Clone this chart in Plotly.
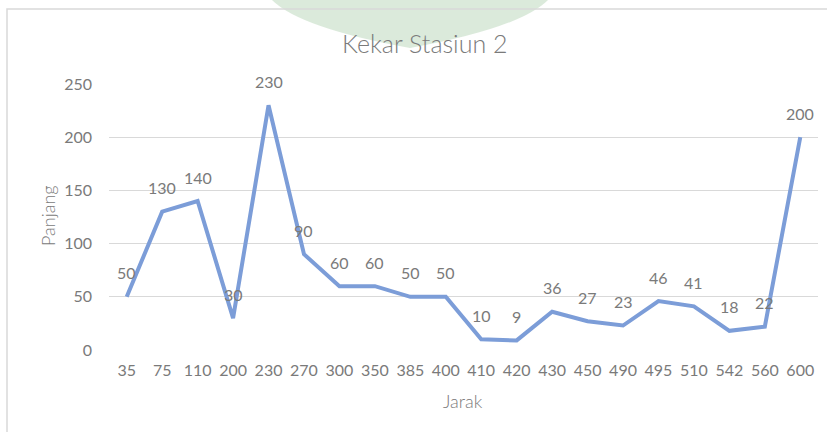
import plotly.graph_objects as go

# Kekar Stasiun 2: panjang kekar per jarak
jarak = ["35", "75", "110", "200", "230", "270", "300", "350", "385", "400",
         "410", "420", "430", "450", "490", "495", "510", "542", "560", "600"]
panjang = [50, 130, 140, 30, 230, 90, 60, 60, 50, 50,
           10, 9, 36, 27, 23, 46, 41, 18, 22, 200]
y_ticks = [0, 50, 100, 150, 200, 250]

W, H = 827, 432
L, R, T, B = 109, 9, 84, 82
PW, PH = W - L - R, H - T - B


def px(x):
    return (x - L) / PW


def py(y):
    return (H - B - y) / PH


LINE = "#7c9dd8"
GREY = "#7a7a7a"
FONT = "Lato, Carlito, 'Open Sans', sans-serif"

fig = go.Figure()
fig.add_trace(go.Scatter(
    x=jarak, y=panjang, mode="lines",
    line=dict(color=LINE, width=4),
    hoverinfo="x+y", showlegend=False,
))

# value labels, placed by category index
annotations = [
    dict(x=i, y=yv, xref="x", yref="y", text=str(yv), showarrow=False,
         xanchor="center", yanchor="middle", yshift=24,
         font=dict(size=16, color=GREY, family=FONT))
    for i, yv in enumerate(panjang)
]
annotations += [
    dict(x=px(424), y=py(43), xref="paper", yref="paper", text="Kekar Stasiun 2",
         xanchor="center", yanchor="middle", showarrow=False,
         font=dict(size=25, color=GREY, family=FONT, weight=300)),
    dict(x=px(48), y=py(215), xref="paper", yref="paper", text="Panjang",
         xanchor="center", yanchor="middle", textangle=-90, showarrow=False,
         font=dict(size=18, color=GREY, family=FONT, weight=300)),
    dict(x=px(463), y=py(401), xref="paper", yref="paper", text="Jarak",
         xanchor="center", yanchor="middle", showarrow=False,
         font=dict(size=18, color=GREY, family=FONT, weight=300)),
]

shapes = [
    # faint green emblem behind the page top
    dict(type="path", xref="paper", yref="paper", layer="below",
         path=(f"M {px(272)},{py(0)} L {px(548)},{py(0)} "
               f"Q {px(520)},{py(28)} {px(410)},{py(48)} "
               f"Q {px(300)},{py(28)} {px(272)},{py(0)} Z"),
         fillcolor="rgba(110,170,110,0.25)", line=dict(width=0)),
    # chart frame
    dict(type="path", xref="paper", yref="paper", layer="below",
         path=f"M {px(7)},{py(440)} L {px(7)},{py(9)} L {px(840)},{py(9)}",
         line=dict(color="#d9d9d9", width=1.5)),
]

fig.update_layout(
    width=W, height=H,
    margin=dict(l=L, r=R, t=T, b=B),
    paper_bgcolor="white", plot_bgcolor="rgba(0,0,0,0)",
    font=dict(family=FONT, color=GREY, size=16),
    annotations=annotations, shapes=shapes,
    xaxis=dict(type="category", categoryorder="array", categoryarray=jarak,
               range=[-0.5, len(jarak) - 0.5], autorange=False,
               showgrid=False, zeroline=False, showline=False, ticks="",
               tickfont=dict(size=16, color=GREY), ticklabelstandoff=9),
    yaxis=dict(range=[0, 250], tickvals=y_ticks, showgrid=True,
               gridcolor="#d9d9d9", gridwidth=1.3, zeroline=False,
               showline=False, ticks="",
               tickfont=dict(size=16, color=GREY), ticklabelstandoff=16),
)

fig.write_html("out.html")
